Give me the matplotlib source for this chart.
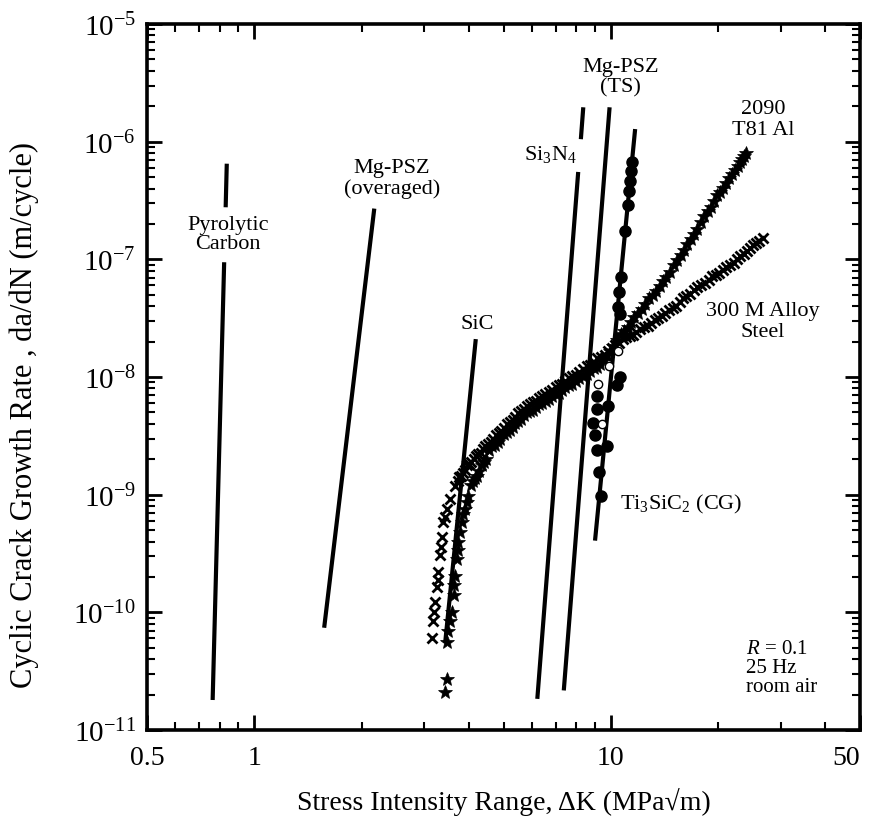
import matplotlib
matplotlib.use('Agg')
import matplotlib.pyplot as plt
import numpy as np
from matplotlib.ticker import FixedLocator, LogLocator, NullFormatter, FixedFormatter, LogFormatterMathtext

plt.rcParams['font.family'] = ['Liberation Serif', 'DejaVu Serif']
plt.rcParams['mathtext.fontset'] = 'custom'
plt.rcParams['mathtext.rm'] = 'Liberation Serif'
plt.rcParams['mathtext.it'] = 'Liberation Serif:italic'

# straight-line fits (nan = gap left for a label)
pyro_k = [0.837, 0.831, np.nan, 0.823, 0.764]
pyro_da = [6.5e-7, 2.77e-7, np.nan, 9.45e-8, 1.8e-11]
psz_over_k = [1.57, 2.17]
psz_over_da = [7.4e-11, 2.7e-7]
sic_k = [3.43, 4.18]
sic_da = [5.5e-11, 2.1e-8]
si3n4_k = [8.37, 8.24, np.nan, 8.10, 6.22]
si3n4_da = [1.96e-6, 1.05e-6, np.nan, 5.53e-7, 1.84e-11]
psz_ts_k = [9.92, 7.38]
psz_ts_da = [1.96e-6, 2.17e-11]
ti_line_k = [11.7, 9.03]
ti_line_da = [1.28e-6, 4.07e-10]

# Ti3SiC2 (CG) data
ti_k = [11.45, 11.38, 11.32, 11.25, 11.14, 10.96, 10.65, 10.56, 10.45, 10.6,
        10.61, 10.39, 9.84, 9.13, 9.03, 9.74, 9.13, 9.13, 8.93, 9.28, 9.39]
ti_da = [6.7e-7, 5.6e-7, 4.6e-7, 3.8e-7, 2.9e-7, 1.74e-7, 7.1e-8, 5.3e-8, 3.9e-8, 3.4e-8,
         1.0e-8, 8.5e-9, 5.7e-9, 5.4e-9, 3.2e-9, 2.6e-9, 2.4e-9, 6.95e-9, 4.1e-9, 1.55e-9, 9.8e-10]
ti_open_k = [10.49, 9.90, 9.22, 9.43]
ti_open_da = [1.68e-8, 1.25e-8, 8.7e-9, 4.0e-9]

# 300 M alloy steel
steel_k = [3.15, 3.18, 3.20, 3.21, 3.25, 3.27, 3.28, 3.32, 3.33, 3.35, 3.38, 3.42, 3.47, 3.54, 3.66,
           3.72, 3.76, 3.80, 3.85, 3.90, 3.95, 4.00, 4.06, 4.12, 4.18, 4.25, 4.31, 4.38, 4.45,
           4.52, 4.60, 4.68, 4.76, 4.85, 4.93, 5.02, 5.11, 5.20, 5.30, 5.40, 5.50, 5.60, 5.71,
           5.82, 5.93, 6.05, 6.17, 6.30, 6.42, 6.55, 6.70, 6.85, 7.00, 7.15, 7.30, 7.45, 7.62,
           7.80, 7.97, 8.15, 8.35, 8.55, 8.75, 8.95, 9.17, 9.40, 9.62, 9.85, 10.07, 10.3, 10.55,
           10.8, 11.05, 11.3, 11.55, 11.8, 12.1, 12.4, 12.7, 13.0, 13.3, 13.6, 13.9, 14.2, 14.55,
           14.9, 15.25, 15.6, 15.95, 16.3, 16.7, 17.1, 17.5, 17.9, 18.35, 18.8, 19.25, 19.7, 20.15,
           20.6, 21.1, 21.6, 22.1, 22.6, 23.1, 23.6, 24.1, 24.6, 25.1, 25.6, 26.1, 26.7]
steel_da = [6.0e-11, 8.5e-11, 1.0e-10, 1.23e-10, 1.65e-10, 1.9e-10, 2.2e-10, 3.1e-10, 3.6e-10, 4.4e-10, 5.9e-10, 6.5e-10, 7.6e-10, 9.2e-10, 1.19e-9,
            1.32e-9, 1.40e-9, 1.45e-9, 1.52e-9, 1.63e-9, 1.78e-9, 1.84e-9, 1.90e-9, 2.03e-9, 2.15e-9, 2.22e-9, 2.28e-9, 2.43e-9, 2.6e-9,
            2.68e-9, 2.78e-9, 2.99e-9, 3.2e-9, 3.34e-9, 3.45e-9, 3.72e-9, 3.95e-9, 4.12e-9, 4.3e-9, 4.6e-9, 4.95e-9, 5.14e-9, 5.3e-9,
            5.64e-9, 5.95e-9, 6.1e-9, 6.3e-9, 6.59e-9, 6.9e-9, 7.13e-9, 7.4e-9, 7.83e-9, 8.3e-9, 8.55e-9, 8.8e-9, 9.31e-9, 9.9e-9,
            1.02e-8, 1.05e-8, 1.11e-8, 1.18e-8, 1.23e-8, 1.27e-8, 1.35e-8, 1.44e-8, 1.49e-8, 1.55e-8, 1.66e-8, 1.78e-8, 1.86e-8, 1.95e-8,
            2.1e-8, 2.2e-8, 2.25e-8, 2.28e-8, 2.4e-8, 2.55e-8, 2.65e-8, 2.7e-8, 2.88e-8, 3.05e-8, 3.18e-8, 3.28e-8, 3.47e-8, 3.7e-8,
            3.89e-8, 4.05e-8, 4.35e-8, 4.65e-8, 4.84e-8, 5.05e-8, 5.44e-8, 5.8e-8, 6.07e-8, 6.3e-8, 6.72e-8, 7.15e-8, 7.4e-8, 7.7e-8,
            8.15e-8, 8.6e-8, 9.0e-8, 9.4e-8, 1.0e-7, 1.07e-7, 1.12e-7, 1.17e-7, 1.24e-7, 1.32e-7, 1.37e-7, 1.43e-7, 1.53e-7]

# 2090 T81 Al
al_k = [3.43, 3.47, 3.47, 3.50, 3.55, 3.58, 3.62, 3.64, 3.66, 3.70, 3.72, 3.73, 3.78, 3.82, 3.86,
        3.90, 3.94, 3.98, 4.05, 4.10, 4.15, 4.22, 4.28, 4.34, 4.40, 4.47, 4.55, 4.63, 4.72,
        4.81, 4.90, 5.0, 5.10, 5.2, 5.30, 5.4, 5.50, 5.61, 5.72, 5.83, 5.95, 6.06, 6.18,
        6.3, 6.42, 6.56, 6.70, 6.85, 7.00, 7.15, 7.30, 7.46, 7.62, 7.8, 7.98, 8.16, 8.35,
        8.55, 8.75, 8.95, 9.15, 9.35, 9.55, 9.75, 9.95, 10.17, 10.4, 10.65, 10.9, 11.15, 11.4,
        11.65, 11.9, 12.2, 12.5, 12.8, 13.1, 13.4, 13.7, 14.0, 14.3, 14.65, 15.0, 15.35, 15.7,
        16.05, 16.4, 16.75, 17.1, 17.5, 17.9, 18.3, 18.7, 19.1, 19.5, 19.9, 20.3, 20.7, 21.1,
        21.5, 21.9, 22.3, 22.7, 23.05, 23.4, 23.7, 24.0]
al_da = [2.1e-11, 2.7e-11, 5.6e-11, 7.0e-11, 8.5e-11, 1.0e-10, 1.4e-10, 1.7e-10, 2.05e-10, 2.85e-10, 3.4e-10, 4.0e-10, 4.8e-10, 5.9e-10, 6.8e-10,
         7.6e-10, 8.6e-10, 9.8e-10, 1.2e-9, 1.32e-9, 1.38e-9, 1.45e-9, 1.6e-9, 1.8e-9, 1.9e-9, 2.0e-9, 2.38e-9, 2.6e-9, 2.67e-9,
         2.78e-9, 2.99e-9, 3.25e-9, 3.4e-9, 3.55e-9, 3.79e-9, 4.05e-9, 4.24e-9, 4.4e-9, 4.73e-9, 5.0e-9, 5.14e-9, 5.25e-9, 5.53e-9,
         5.85e-9, 5.98e-9, 6.2e-9, 6.52e-9, 6.9e-9, 7.13e-9, 7.35e-9, 7.76e-9, 8.2e-9, 8.49e-9, 8.8e-9, 9.31e-9, 9.8e-9, 1.02e-8,
         1.06e-8, 1.12e-8, 1.19e-8, 1.22e-8, 1.28e-8, 1.4e-8, 1.55e-8, 1.65e-8, 1.82e-8, 2.06e-8, 2.3e-8, 2.46e-8, 2.65e-8, 2.94e-8,
         3.25e-8, 3.49e-8, 3.8e-8, 4.2e-8, 4.65e-8, 5.0e-8, 5.4e-8, 5.96e-8, 6.6e-8, 7.13e-8, 7.8e-8, 8.87e-8, 9.9e-8, 1.09e-7,
         1.2e-7, 1.34e-7, 1.5e-7, 1.64e-7, 1.82e-7, 2.06e-7, 2.35e-7, 2.56e-7, 2.8e-7, 3.13e-7, 3.5e-7, 3.76e-7, 4.05e-7, 4.47e-7,
         4.9e-7, 5.27e-7, 5.7e-7, 6.22e-7, 6.7e-7, 7.13e-7, 7.6e-7, 7.98e-7]

fig = plt.figure(figsize=(8.74, 8.2), dpi=100)
ax = fig.add_axes([0.1682, 0.1085, 0.8158, 0.8610])

lw = 3.0
for k, da in [(pyro_k, pyro_da), (psz_over_k, psz_over_da), (sic_k, sic_da),
              (si3n4_k, si3n4_da), (psz_ts_k, psz_ts_da), (ti_line_k, ti_line_da)]:
    ax.plot(k, da, color='black', lw=lw, solid_capstyle='butt', zorder=3)

ax.plot(steel_k, steel_da, 'x', color='black', ms=7.5, mew=2.0, zorder=4)
ax.plot(al_k, al_da, '*', color='black', ms=10, mew=0.5, zorder=4)
ax.plot(ti_k, ti_da, 'o', color='black', ms=8, zorder=5)
ax.plot(ti_open_k, ti_open_da, 'o', mfc='white', mec='black', ms=6, mew=1.0, zorder=6)

ax.set_xscale('log')
ax.set_yscale('log')
ax.set_xlim(0.5, 50)
ax.set_ylim(1e-11, 1e-5)

ax.xaxis.set_major_locator(FixedLocator([0.5, 1, 10, 50]))
ax.xaxis.set_major_formatter(FixedFormatter(['0.5', '1', '10', '50']))
ax.xaxis.set_minor_locator(LogLocator(base=10, subs=np.arange(2, 10)))
ax.xaxis.set_minor_formatter(NullFormatter())
ax.yaxis.set_major_locator(LogLocator(base=10, numticks=10))
ax.yaxis.set_major_formatter(LogFormatterMathtext())
ax.yaxis.set_minor_locator(LogLocator(base=10, subs=np.arange(2, 10), numticks=10))
ax.yaxis.set_minor_formatter(NullFormatter())

ax.tick_params(which='both', direction='in', top=True, right=True)
ax.tick_params(which='major', length=11, width=2.0)
ax.tick_params(which='minor', length=6, width=1.5)
ax.tick_params(axis='x', labelsize=20, pad=11)
ax.tick_params(axis='y', labelsize=21, pad=8)
for s in ax.spines.values():
    s.set_linewidth(2.6)

fig.canvas.draw()
xlabels = ax.get_xticklabels()
xlabels[-1].set_horizontalalignment('right')

ax.set_xlabel('Stress Intensity Range, \u0394K (MPa\u221am)', fontsize=20, labelpad=12)
ax.set_ylabel('Cyclic Crack Growth Rate , da/dN (m/cycle)', fontsize=22)
ax.yaxis.set_label_coords(-0.152, 0.448)

fs = 16
ax.text(0.844, 1.64e-7, 'Pyrolytic\nCarbon', fontsize=fs, ha='center', va='center', linespacing=1.05)
ax.text(2.43, 4.9e-7, 'Mg-PSZ\n(overaged)', fontsize=fs, ha='center', va='center', linespacing=1.05)
ax.text(4.21, 2.83e-8, 'SiC', fontsize=fs, ha='center', va='center')
ax.text(6.75, 7.86e-7, r'Si$_3$N$_4$', fontsize=fs, ha='center', va='center')
ax.text(10.66, 3.55e-6, 'Mg-PSZ\n(TS)', fontsize=fs, ha='center', va='center', linespacing=1.1)
ax.text(26.7, 1.56e-6, '2090\nT81 Al', fontsize=fs, ha='center', va='center', linespacing=1.1)
ax.text(26.7, 3.0e-8, '300 M Alloy\nSteel', fontsize=fs, ha='center', va='center', linespacing=1.1)
ax.text(10.6, 8.5e-10, r'Ti$_3$SiC$_2$ (CG)', fontsize=fs, ha='left', va='center')
ax.text(24.0, 3.4e-11, '$R$ = 0.1\n25 Hz\nroom air', fontsize=15, ha='left', va='center', linespacing=1.0)

fig.savefig('out.png', dpi=100)
